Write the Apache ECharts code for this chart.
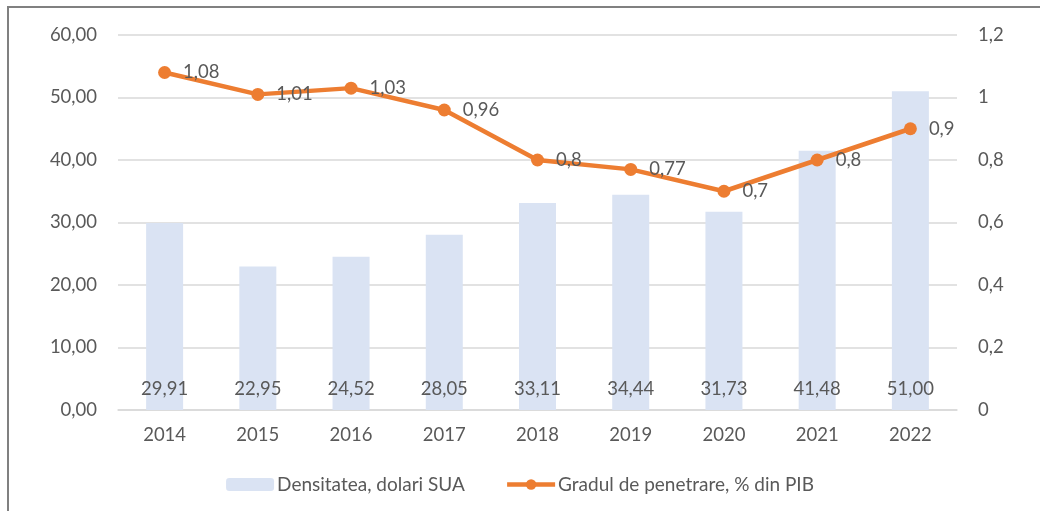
<!DOCTYPE html>
<html>
<head>
<meta charset="utf-8">
<script src="https://cdn.jsdelivr.net/npm/echarts@6/dist/echarts.min.js"></script>
<style>
  html, body { margin: 0; padding: 0; background: #fff; }
  #frame { position: absolute; left: 7px; top: 6px; width: 1040px; height: 520px;
           border-left: 2px solid #808080; border-top: 2px solid #808080; box-sizing: border-box; }
  #main { position: absolute; left: 0; top: 0; width: 1040px; height: 511px; }
</style>
</head>
<body>
<div id="frame"></div>
<div id="main"></div>
<script>
// date
var years = ['2014', '2015', '2016', '2017', '2018', '2019', '2020', '2021', '2022']
var densitate = [29.91, 22.95, 24.52, 28.05, 33.11, 34.44, 31.73, 41.48, 51.00]
var penetrare = [1.08, 1.01, 1.03, 0.96, 0.8, 0.77, 0.7, 0.8, 0.9]
var numeBare = 'Densitatea, dolari SUA'
var numeLinie = 'Gradul de penetrare, % din PIB'

var font = 'Lato, "Noto Sans", sans-serif'
var gri = '#595959'
var fs = 18.5

function virgula(v) {
    return String(v).replace('.', ',')
}

var myChart = echarts.init(document.getElementById('main'))
myChart.setOption({
    animation: false,
    textStyle: { fontFamily: font },
    grid: { left: 118, right: 83, top: 35, bottom: 101 },
    legend: {
        bottom: 12,
        left: 'center',
        itemWidth: 48,
        itemHeight: 13,
        itemGap: 40,
        textStyle: { color: gri, fontSize: 19, fontFamily: font, padding: [0, 0, 0, -2] },
        data: [
            { name: numeBare },
            { name: numeLinie, lineStyle: { width: 4.5 } }
        ]
    },
    xAxis: {
        type: 'category',
        data: years,
        axisTick: { show: false },
        axisLine: { lineStyle: { color: '#d9d9d9', width: 1.5 } },
        axisLabel: { color: gri, fontSize: fs, margin: 16 }
    },
    yAxis: [
        {
            type: 'value',
            min: 0, max: 60, interval: 10,
            axisLine: { show: false },
            axisTick: { show: false },
            splitLine: { lineStyle: { color: '#d9d9d9', width: 1.5 } },
            axisLabel: {
                color: gri, fontSize: fs, margin: 21,
                formatter: function (v) { return v.toFixed(2).replace('.', ',') }
            }
        },
        {
            type: 'value',
            min: 0, max: 1.2, interval: 0.2,
            axisLine: { show: false },
            axisTick: { show: false },
            splitLine: { show: false },
            axisLabel: {
                color: gri, fontSize: fs, margin: 21,
                formatter: function (v) { return virgula(Math.round(v * 10) / 10) }
            }
        }
    ],
    series: [
        {
            name: numeBare,
            type: 'bar',
            data: densitate,
            barWidth: 37,
            itemStyle: { color: '#dae3f3' },
            label: {
                show: true,
                position: 'insideBottom',
                distance: 11,
                color: gri,
                fontSize: fs,
                formatter: function (p) { return p.value.toFixed(2).replace('.', ',') }
            }
        },
        {
            name: numeLinie,
            type: 'line',
            yAxisIndex: 1,
            data: penetrare,
            symbol: 'circle',
            symbolSize: 13,
            lineStyle: { color: '#ed7d31', width: 4.5 },
            itemStyle: { color: '#ed7d31' },
            label: {
                show: true,
                position: 'right',
                distance: 12,
                color: gri,
                fontSize: fs,
                formatter: function (p) { return virgula(p.value) }
            }
        }
    ]
})
</script>
</body>
</html>
